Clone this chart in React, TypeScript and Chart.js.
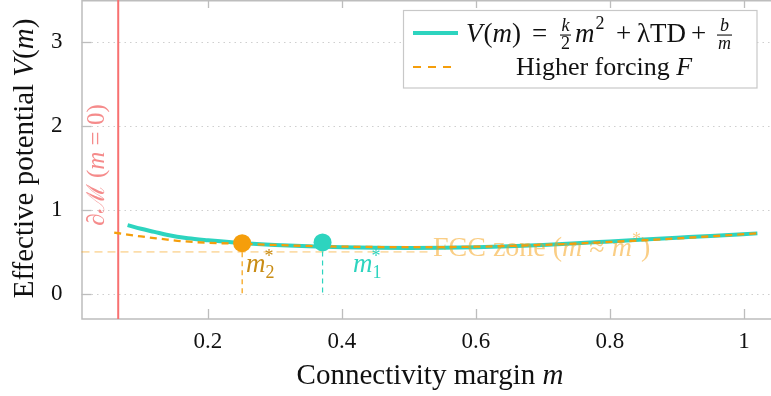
import React, { useEffect, useRef } from "react";
import { Chart, registerables } from "chart.js";
Chart.register(...registerables);

// ---- data ----
const potentialM = [0.08, 0.1, 0.12, 0.14, 0.17, 0.2, 0.25, 0.3, 0.35, 0.4, 0.45, 0.5, 0.55, 0.6, 0.65, 0.7, 0.75, 0.8, 0.85, 0.9, 0.95, 1.02];
const potentialV = [0.818, 0.775, 0.738, 0.7, 0.662, 0.638, 0.605, 0.582, 0.566, 0.555, 0.549, 0.547, 0.549, 0.555, 0.566, 0.582, 0.602, 0.624, 0.646, 0.668, 0.69, 0.72];
const forcedM = [0.06, 0.08, 0.1, 0.13, 0.16, 0.2, 0.25, 0.3, 0.35, 0.4, 0.5, 0.6, 0.7, 0.8, 0.9, 1.02];
const forcedV = [0.73, 0.705, 0.683, 0.655, 0.628, 0.608, 0.596, 0.582, 0.57, 0.562, 0.556, 0.561, 0.583, 0.618, 0.66, 0.72];
const optimumM = [0.371, 0.251]; // m1*, m2*
const optimumV = [0.612, 0.603];
const boundaryM = 0.066;
const fccLevel = 0.5;
const fccEndM = 0.535;
const xTicks = [0.2, 0.4, 0.6, 0.8, 1];
const yTicks = [0, 1, 2, 3];
const xRange = [0.0112, 1.0403];
const yRange = [-0.3, 3.5];

const TEAL = "#2dd4bf";
const ORANGE = "#f59e0b";
const RED = "#f87171";
const FONT = '"Liberation Serif", "DejaVu Serif", serif';
const fnt = (size: number, italic = false) => `${italic ? "italic " : ""}${size}px ${FONT}`;

function put(ctx: CanvasRenderingContext2D, text: string, font: string, x: number, y: number) {
  ctx.font = font;
  ctx.fillText(text, x, y);
  return x + ctx.measureText(text).width;
}
type Seg = { t: string; f: string; dy?: number; adv?: boolean };
function segWidth(ctx: CanvasRenderingContext2D, segs: Seg[]) {
  let w = 0;
  for (const s of segs) {
    ctx.font = s.f;
    if (s.adv !== false) w += ctx.measureText(s.t).width;
  }
  return w;
}
function drawSegs(ctx: CanvasRenderingContext2D, segs: Seg[], x: number, y: number) {
  for (const s of segs) {
    ctx.font = s.f;
    ctx.fillText(s.t, x, y + (s.dy || 0));
    if (s.adv !== false) x += ctx.measureText(s.t).width;
  }
  return x;
}
function frac(ctx: CanvasRenderingContext2D, num: string, den: string, numIt: boolean, denIt: boolean, x: number) {
  const fs = 18;
  ctx.font = fnt(fs, numIt);
  const wn = ctx.measureText(num).width;
  ctx.font = fnt(fs, denIt);
  const wd = ctx.measureText(den).width;
  const w = Math.max(wn, wd) + 4;
  put(ctx, num, fnt(fs, numIt), x + (w - wn) / 2, 31);
  put(ctx, den, fnt(fs, denIt), x + (w - wd) / 2, 48.5);
  ctx.fillRect(x + 1, 34.5, w - 2, 1.1);
  return x + w;
}

const overlay = {
  id: "overlay",
  beforeDatasetsDraw(chart: any) {
    const ctx: CanvasRenderingContext2D = chart.ctx;
    const { left, right, top, bottom } = chart.chartArea;
    const xs = chart.scales.x;
    const ys = chart.scales.y;
    ctx.save();
    ctx.strokeStyle = "#cfcfcf";
    ctx.lineWidth = 1.2;
    ctx.setLineDash([1.5, 4]);
    for (const v of yTicks) {
      const py = Math.round(ys.getPixelForValue(v)) + 0.5;
      ctx.beginPath();
      ctx.moveTo(left + 10, py);
      ctx.lineTo(right, py);
      ctx.stroke();
    }
    ctx.setLineDash([]);
    ctx.strokeStyle = "#bdbdbd";
    ctx.lineWidth = 1.3;
    for (const v of yTicks) {
      const py = Math.round(ys.getPixelForValue(v)) + 0.5;
      ctx.beginPath();
      ctx.moveTo(left, py);
      ctx.lineTo(left + 10, py);
      ctx.stroke();
    }
    for (const v of xTicks) {
      const px = Math.round(xs.getPixelForValue(v)) + 0.5;
      ctx.beginPath();
      ctx.moveTo(px, bottom);
      ctx.lineTo(px, bottom - 10);
      ctx.moveTo(px, top);
      ctx.lineTo(px, top + 8);
      ctx.stroke();
    }
    ctx.strokeStyle = "#bdbdbd";
    ctx.lineWidth = 1.5;
    ctx.beginPath();
    ctx.moveTo(right, top + 0.75);
    ctx.lineTo(left + 0.5, top + 0.75);
    ctx.lineTo(left + 0.5, bottom);
    ctx.lineTo(right, bottom);
    ctx.stroke();
    ctx.restore();
  },
  afterDatasetsDraw(chart: any) {
    const ctx: CanvasRenderingContext2D = chart.ctx;
    ctx.save();
    ctx.textAlign = "left";
    ctx.textBaseline = "alphabetic";
    // FCC zone label
    ctx.fillStyle = "rgba(245,158,11,0.5)";
    drawSegs(ctx, [
      { t: "FCC zone (", f: fnt(28) },
      { t: "m", f: fnt(28, true) },
      { t: " ≈ ", f: fnt(28) },
      { t: "m", f: fnt(28, true) },
      { t: "*", f: fnt(18), dy: -11 },
      { t: ")", f: fnt(28) },
    ], 433, 256);
    // m2*
    ctx.fillStyle = "#c98c14";
    let x = put(ctx, "m", fnt(27, true), 246, 272);
    put(ctx, "*", fnt(18), x - 1, 262);
    put(ctx, "2", fnt(18), x, 278);
    // m1*
    ctx.fillStyle = TEAL;
    x = put(ctx, "m", fnt(27, true), 353, 272);
    put(ctx, "*", fnt(18), x - 1, 262);
    put(ctx, "1", fnt(18), x, 278);
    // boundary label (rotated)
    ctx.fillStyle = "rgba(239,68,68,0.62)";
    ctx.translate(104, 165);
    ctx.rotate(-Math.PI / 2);
    const bsegs: Seg[] = [
      { t: "∂ℳ (", f: fnt(25) },
      { t: "m", f: fnt(25, true) },
      { t: " = 0)", f: fnt(25) },
    ];
    drawSegs(ctx, bsegs, -segWidth(ctx, bsegs) / 2, 0);
    ctx.restore();
  },
  afterDraw(chart: any) {
    const ctx: CanvasRenderingContext2D = chart.ctx;
    ctx.save();
    ctx.textAlign = "left";
    ctx.textBaseline = "alphabetic";
    // axis titles
    ctx.fillStyle = "#111";
    const xt: Seg[] = [
      { t: "Connectivity margin ", f: fnt(29) },
      { t: "m", f: fnt(29, true) },
    ];
    drawSegs(ctx, xt, 430 - segWidth(ctx, xt) / 2, 384);
    ctx.save();
    ctx.translate(33, 158.5);
    ctx.rotate(-Math.PI / 2);
    const yt: Seg[] = [
      { t: "Effective potential ", f: fnt(29) },
      { t: "V", f: fnt(29, true) },
      { t: "(", f: fnt(29) },
      { t: "m", f: fnt(29, true) },
      { t: ")", f: fnt(29) },
    ];
    drawSegs(ctx, yt, -segWidth(ctx, yt) / 2, 0);
    ctx.restore();

    // legend
    ctx.fillStyle = "#fff";
    ctx.fillRect(403, 10.5, 354, 77.5);
    ctx.strokeStyle = "#c8c8c8";
    ctx.lineWidth = 1.2;
    ctx.strokeRect(403.5, 10.5, 353.5, 77.5);
    ctx.strokeStyle = TEAL;
    ctx.lineWidth = 4;
    ctx.beginPath();
    ctx.moveTo(413, 33);
    ctx.lineTo(458, 33);
    ctx.stroke();
    ctx.strokeStyle = ORANGE;
    ctx.lineWidth = 2.2;
    ctx.setLineDash([8, 7]);
    ctx.beginPath();
    ctx.moveTo(413, 67);
    ctx.lineTo(455, 67);
    ctx.stroke();
    ctx.setLineDash([]);
    ctx.fillStyle = "#111";
    const b = 42;
    const F = 27;
    let x = 466;
    x = put(ctx, "V", fnt(F, true), x, b);
    x = put(ctx, "(", fnt(F), x + 1, b);
    x = put(ctx, "m", fnt(F, true), x, b);
    put(ctx, ")", fnt(F), x, b);
    put(ctx, "=", fnt(F), 532, b);
    frac(ctx, "k", "2", true, false, 559);
    x = put(ctx, "m", fnt(F, true), 575, b);
    put(ctx, "2", fnt(18), x + 1, b - 13);
    put(ctx, "+", fnt(F), 616, b);
    put(ctx, "λTD", fnt(F), 637, b);
    put(ctx, "+", fnt(F), 691, b);
    frac(ctx, "b", "m", true, true, 716);
    const l2: Seg[] = [
      { t: "Higher forcing ", f: fnt(26) },
      { t: "F", f: fnt(26, true) },
    ];
    drawSegs(ctx, l2, 604 - segWidth(ctx, l2) / 2, 75);
    ctx.restore();
  },
};

export default function App() {
  const ref = useRef<HTMLCanvasElement>(null);
  useEffect(() => {
    document.body.style.margin = "0";
    const canvas = ref.current!;
    const pts = (xs: number[], ys: number[]) => xs.map((m, i) => ({ x: m, y: ys[i] }));
    const chart = new Chart(canvas, {
      type: "line",
      data: {
        datasets: [
          {
            data: [{ x: optimumM[0], y: optimumV[0] }],
            showLine: false,
            pointRadius: 9,
            pointBackgroundColor: TEAL,
            pointBorderWidth: 0,
            order: 0,
          },
          {
            data: [{ x: optimumM[1], y: optimumV[1] }],
            showLine: false,
            pointRadius: 9,
            pointBackgroundColor: ORANGE,
            pointBorderWidth: 0,
            order: 0,
          },
          {
            data: pts(forcedM, forcedV),
            borderColor: ORANGE,
            borderWidth: 2.3,
            borderDash: [7, 5],
            pointRadius: 0,
            cubicInterpolationMode: "monotone",
            order: 1,
          },
          {
            data: pts(potentialM, potentialV),
            borderColor: TEAL,
            borderWidth: 4,
            pointRadius: 0,
            cubicInterpolationMode: "monotone",
            order: 2,
          },
          {
            data: [{ x: optimumM[0], y: optimumV[0] }, { x: optimumM[0], y: 0 }],
            borderColor: TEAL,
            borderWidth: 1.2,
            borderDash: [5, 4],
            pointRadius: 0,
            order: 3,
          },
          {
            data: [{ x: optimumM[1], y: optimumV[1] }, { x: optimumM[1], y: 0 }],
            borderColor: ORANGE,
            borderWidth: 1.2,
            borderDash: [5, 4],
            pointRadius: 0,
            order: 3,
          },
          {
            data: [{ x: boundaryM, y: yRange[0] }, { x: boundaryM, y: yRange[1] }],
            borderColor: RED,
            borderWidth: 2,
            pointRadius: 0,
            order: 4,
          },
          {
            data: [{ x: xRange[0], y: fccLevel }, { x: fccEndM, y: fccLevel }],
            borderColor: "rgba(245,158,11,0.35)",
            borderWidth: 1.8,
            borderDash: [8, 5],
            pointRadius: 0,
            order: 5,
          },
        ],
      },
      options: {
        animation: false,
        responsive: false,
        devicePixelRatio: 1,
        clip: false as any,
        layout: { padding: 0, autoPadding: false },
        plugins: { legend: { display: false }, tooltip: { enabled: false } },
        scales: {
          x: {
            type: "linear",
            min: xRange[0],
            max: xRange[1],
            grid: { display: false },
            border: { display: false },
            afterBuildTicks: (s: any) => {
              s.ticks = xTicks.map((v) => ({ value: v }));
            },
            afterFit: (s: any) => {
              s.height = 77;
              s.paddingLeft = 0;
              s.paddingRight = 0;
            },
            ticks: {
              padding: 1,
              color: "#111",
              font: { family: FONT, size: 23 },
              maxRotation: 0,
              autoSkip: false,
              callback: (v: any) => String(Number(v)),
            },
          },
          y: {
            type: "linear",
            min: yRange[0],
            max: yRange[1],
            grid: { display: false },
            border: { display: false },
            afterBuildTicks: (s: any) => {
              s.ticks = yTicks.map((v) => ({ value: v }));
            },
            afterFit: (s: any) => {
              s.width = 81.5;
              s.paddingTop = 0;
              s.paddingBottom = 0;
            },
            ticks: {
              padding: 11,
              color: "#111",
              font: { family: FONT, size: 23 },
              autoSkip: false,
              callback: (v: any) => String(Number(v)),
            },
          },
        },
      },
      plugins: [overlay],
    });
    return () => chart.destroy();
  }, []);
  return <canvas ref={ref} width={771} height={396} style={{ display: "block" }} />;
}
